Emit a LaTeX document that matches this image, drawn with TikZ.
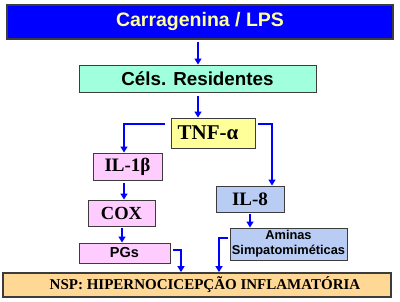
\documentclass[tikz,border=0pt]{standalone}
\usepackage{fontspec}
\setmainfont{Liberation Serif}
\setsansfont{Liberation Sans}
\usetikzlibrary{arrows.meta,calc}
\definecolor{topblue}{RGB}{0,0,255}
\definecolor{toptext}{RGB}{255,255,153}
\definecolor{mint}{RGB}{160,255,220}
\definecolor{lyellow}{RGB}{255,255,153}
\definecolor{lpink}{RGB}{255,204,255}
\definecolor{lblue}{RGB}{184,204,244}
\definecolor{lorange}{RGB}{255,216,150}
\definecolor{arrblue}{RGB}{0,0,255}
\definecolor{edge}{RGB}{60,60,60}
\begin{document}
\begin{tikzpicture}[x=1pt,y=-1pt,
  box/.style={draw=edge,line width=0.9pt,inner sep=0pt,anchor=center},
  sansbox/.style={box,font=\sffamily\bfseries},
  serifbox/.style={box,font=\rmfamily\bfseries},
  arr/.style={draw=arrblue,line width=2pt,-{Triangle[length=6pt,width=7pt]}}]
\useasboundingbox (0,0) rectangle (400,302);
\fill[white] (0,0) rectangle (400,302);
\node[sansbox,fill=topblue,text=toptext,minimum width=386pt,minimum height=34pt,font=\sffamily\bfseries\fontsize{19.5}{21}\selectfont,line width=1.3pt] (top) at (200,22) {Carragenina / LPS};
\node[sansbox,fill=mint,minimum width=237pt,minimum height=27pt,font=\sffamily\bfseries\fontsize{18.8}{20}\selectfont] (cels) at (197.5,78.5) {Céls. Residentes};
\node[serifbox,fill=lyellow,minimum width=84pt,minimum height=30pt,font=\rmfamily\bfseries\fontsize{21}{23}\selectfont] (tnf) at (213,133) {\hspace*{-10pt}TNF-α};
\node[serifbox,fill=lpink,minimum width=69pt,minimum height=27pt,font=\rmfamily\bfseries\fontsize{19}{21}\selectfont] (il1) at (127.5,166.5) {IL-1β};
\node[serifbox,fill=lpink,minimum width=67pt,minimum height=26pt,font=\rmfamily\bfseries\fontsize{18.5}{20}\selectfont] (cox) at (121.5,213) {COX};
\node[sansbox,fill=lpink,minimum width=91pt,minimum height=20pt,font=\sffamily\bfseries\fontsize{14.5}{16}\selectfont] (pgs) at (124.5,253) {PGs};
\node[serifbox,fill=lblue,minimum width=68pt,minimum height=26pt,font=\rmfamily\bfseries\fontsize{19}{21}\selectfont] (il8) at (250,199) {IL-8};
\node[sansbox,fill=lblue,minimum width=117pt,minimum height=32pt,align=center,font=\sffamily\bfseries\fontsize{12.8}{15}\selectfont] (ami) at (288.5,244) {Aminas\\Simpatomiméticas};
\node[serifbox,fill=lorange,minimum width=388pt,minimum height=24pt,line width=1.8pt,font=\rmfamily\bfseries\fontsize{15}{17}\selectfont] (nsp) at (197,285) {\hspace*{16pt}NSP: HIPERNOCICEPÇÃO INFLAMATÓRIA};
% connectors
\draw[arr] ($(top.south)+(-2,2)$) -- ($(top.south |- cels.north)+(-2,0)$);
\draw[arr] ($(cels.south)+(0.5,4)$) -- ($(cels.south |- tnf.north)+(0.5,0)$);
\draw[arr] ($(tnf.north west)+(-6,6)$) -| ($(il1.north)+(-3.5,0)$);
\draw[arr] ($(tnf.north east)+(3,6)$) -| ($(il8.north)+(22,0)$);
\draw[arr] ($(il1.south)+(-3.5,3)$) -- ($(il1.south |- cox.north)+(-3.5,0)$);
\draw[arr] ($(cox.south)+(0.5,2)$) -- ($(cox.south |- pgs.north)+(0.5,0)$);
\draw[arr] ($(il8.south)+(0,2)$) -- (il8.south |- ami.north);
\draw[arr] ($(pgs.east)+(3,-3)$) -| ($(nsp.north)+(-16,0)$);
\draw[arr] ($(ami.west)+(-2,-6)$) -| ($(nsp.north)+(22,0)$);
\end{tikzpicture}
\end{document}
